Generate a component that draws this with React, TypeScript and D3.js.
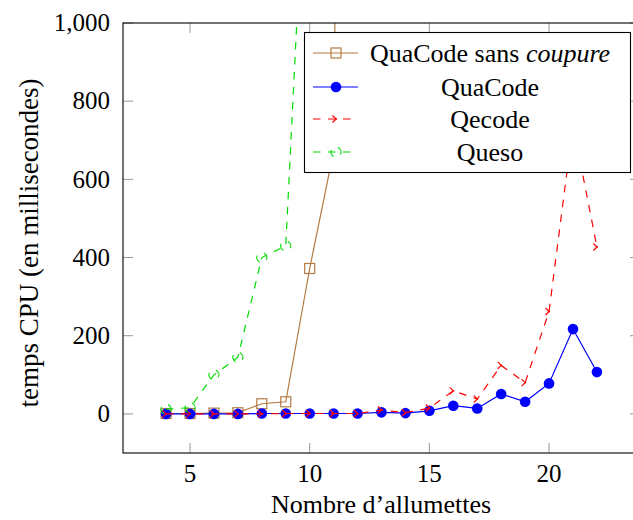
import * as d3 from "d3";

// number of matches (x) for each series
const xBrown = [4, 5, 6, 7, 8, 9, 10, 11, 12];
const quaCodeSansCoupure = [1, 1, 2, 3, 26, 31, 372, 672, 7000];

const xAll = [4, 5, 6, 7, 8, 9, 10, 11, 12, 13, 14, 15, 16, 17, 18, 19, 20, 21, 22];
const quaCode = [0, 0, 0, 0, 1, 1, 1, 1, 1, 4, 2, 8, 21, 14, 51, 31, 78, 217, 107];
const qecode = [0, 0, 0, 0, 0, 1, 1, 1, 1, 10, 3, 15, 59, 38, 124, 80, 262, 740, 427];

const xQueso = [4, 5, 6, 7, 8, 9, 10];
const queso = [12, 16, 100, 145, 400, 430, 1670];

const xTicks = [5, 10, 15, 20];
const yTicks = [0, 200, 400, 600, 800, 1000];

const BROWN = "#b37a42";
const BLUE = "#0000ff";
const RED = "#ff0000";
const GREEN = "#00dd00";
const DASH = "7.5,7.5";
const FONT = "Liberation Serif, DejaVu Serif, serif";

export default function App() {
    const left = 123, right = 640, top = 23, bottom = 453;
    const x = d3.scaleLinear().domain([2.2, 23.8]).range([left, right]);
    const y = d3.scaleLinear().domain([-100, 1000]).range([bottom, top]);
    const line = d3.line<[number, number]>().x(d => x(d[0])).y(d => y(d[1]));

    const brownPts: [number, number][] = xBrown.map((v, i) => [v, quaCodeSansCoupure[i]]);
    const bluePts: [number, number][] = xAll.map((v, i) => [v, quaCode[i]]);
    const redPts: [number, number][] = xAll.map((v, i) => [v, qecode[i]]);
    const greenPts: [number, number][] = xQueso.map((v, i) => [v, queso[i]]);

    const fmt = d3.format(",");
    const tick = 10;

    const square = (cx: number, cy: number, key: string, color: string) => (
        <rect key={key} x={cx - 5} y={cy - 5} width={10} height={10} fill="none" stroke={color} strokeWidth={1.2} />
    );
    const dot = (cx: number, cy: number, key: string) => (
        <circle key={key} cx={cx} cy={cy} r={5.3} fill={BLUE} />
    );
    const cross = (cx: number, cy: number, key: string) => (
        <path key={key} d={`M${cx - 3.5},${cy - 3.5}L${cx + 3.5},${cy + 3.5}M${cx - 3.5},${cy + 3.5}L${cx + 3.5},${cy - 3.5}`}
            stroke={RED} strokeWidth={1.2} strokeDasharray="6,4" fill="none" />
    );
    const ring = (cx: number, cy: number, key: string) => (
        <circle key={key} cx={cx} cy={cy} r={5} fill="none" stroke={GREEN} strokeWidth={1.2} strokeDasharray={DASH} transform={`rotate(-60 ${cx} ${cy})`} />
    );

    const legend = [
        { label: "QuaCode", color: BROWN, dash: undefined, mark: "sq" },
        { label: "QuaCode", color: BLUE, dash: undefined, mark: "dot" },
        { label: "Qecode", color: RED, dash: DASH, mark: "x" },
        { label: "Queso", color: GREEN, dash: DASH, mark: "o" },
    ];
    const legendRows = [53, 87, 119, 152];

    return (
        <div style={{ position: "absolute", left: 0, top: 0 }}>
            <svg width={633} height={520} style={{ display: "block", background: "#fff", fontFamily: FONT }}>
                <defs>
                    <clipPath id="plot">
                        <rect x={left} y={top} width={right - left} height={bottom - top} />
                    </clipPath>
                </defs>

                {/* ticks, mirrored, pointing inwards */}
                {xTicks.map(t => (
                    <g key={`xt-${t}`}>
                        <line x1={x(t)} x2={x(t)} y1={bottom} y2={bottom - tick} stroke="#999" strokeWidth={1} />
                        <line x1={x(t)} x2={x(t)} y1={top} y2={top + tick} stroke="#999" strokeWidth={1} />
                        <text x={x(t)} y={482} textAnchor="middle" fontSize={25} fontFamily={FONT}>{t}</text>
                    </g>
                ))}
                {yTicks.map(t => (
                    <g key={`yt-${t}`}>
                        <line x1={left} x2={left + tick} y1={y(t)} y2={y(t)} stroke="#999" strokeWidth={1} />
                        <line x1={right} x2={right - tick} y1={y(t)} y2={y(t)} stroke="#999" strokeWidth={1} />
                        <text x={110} y={y(t)} dy="0.33em" textAnchor="end" fontSize={25} fontFamily={FONT}>{fmt(t)}</text>
                    </g>
                ))}

                <g clipPath="url(#plot)">
                    <path d={line(brownPts) ?? ""} fill="none" stroke={BROWN} strokeWidth={1.2} />
                    {brownPts.map((p, i) => square(x(p[0]), y(p[1]), `b${i}`, BROWN))}
                    <path d={line(bluePts) ?? ""} fill="none" stroke={BLUE} strokeWidth={1.2} />
                    {bluePts.map((p, i) => dot(x(p[0]), y(p[1]), `q${i}`))}
                    <path d={line(redPts) ?? ""} fill="none" stroke={RED} strokeWidth={1.2} strokeDasharray={DASH} />
                    {redPts.map((p, i) => cross(x(p[0]), y(p[1]), `r${i}`))}
                    <path d={line(greenPts) ?? ""} fill="none" stroke={GREEN} strokeWidth={1.2} strokeDasharray={DASH} />
                    {greenPts.map((p, i) => ring(x(p[0]), y(p[1]), `g${i}`))}
                </g>

                <rect x={left} y={top} width={right - left} height={bottom - top} fill="none" stroke="#000" strokeWidth={1.1} />

                {/* legend */}
                <rect x={304.5} y={32.5} width={326} height={140} fill="#fff" stroke="#000" strokeWidth={1.1} />
                {legend.map((l, i) => {
                    const ly = legendRows[i];
                    return (
                        <g key={`lg-${i}`}>
                            <line x1={313} x2={358} y1={ly} y2={ly} stroke={l.color} strokeWidth={1.2} strokeDasharray={l.dash} />
                            {l.mark === "sq" && square(336, ly, "ls", BROWN)}
                            {l.mark === "dot" && dot(336, ly, "ld")}
                            {l.mark === "x" && cross(336, ly, "lx")}
                            {l.mark === "o" && ring(336, ly, "lo")}
                            <text x={490} y={ly} dy="0.33em" textAnchor="middle" fontSize={26} fontFamily={FONT}>
                                {i === 0 ? (<>{l.label} sans <tspan fontStyle="italic">coupure</tspan></>) : l.label}
                            </text>
                        </g>
                    );
                })}

                <text x={381} y={513} textAnchor="middle" fontSize={26} fontFamily={FONT}>Nombre d’allumettes</text>
                <text transform={`translate(29, ${(top + bottom) / 2 + 5}) rotate(-90)`} textAnchor="middle" dy="0.33em" fontSize={27} fontFamily={FONT}>
                    temps CPU (en millisecondes)
                </text>
            </svg>
        </div>
    );
}
